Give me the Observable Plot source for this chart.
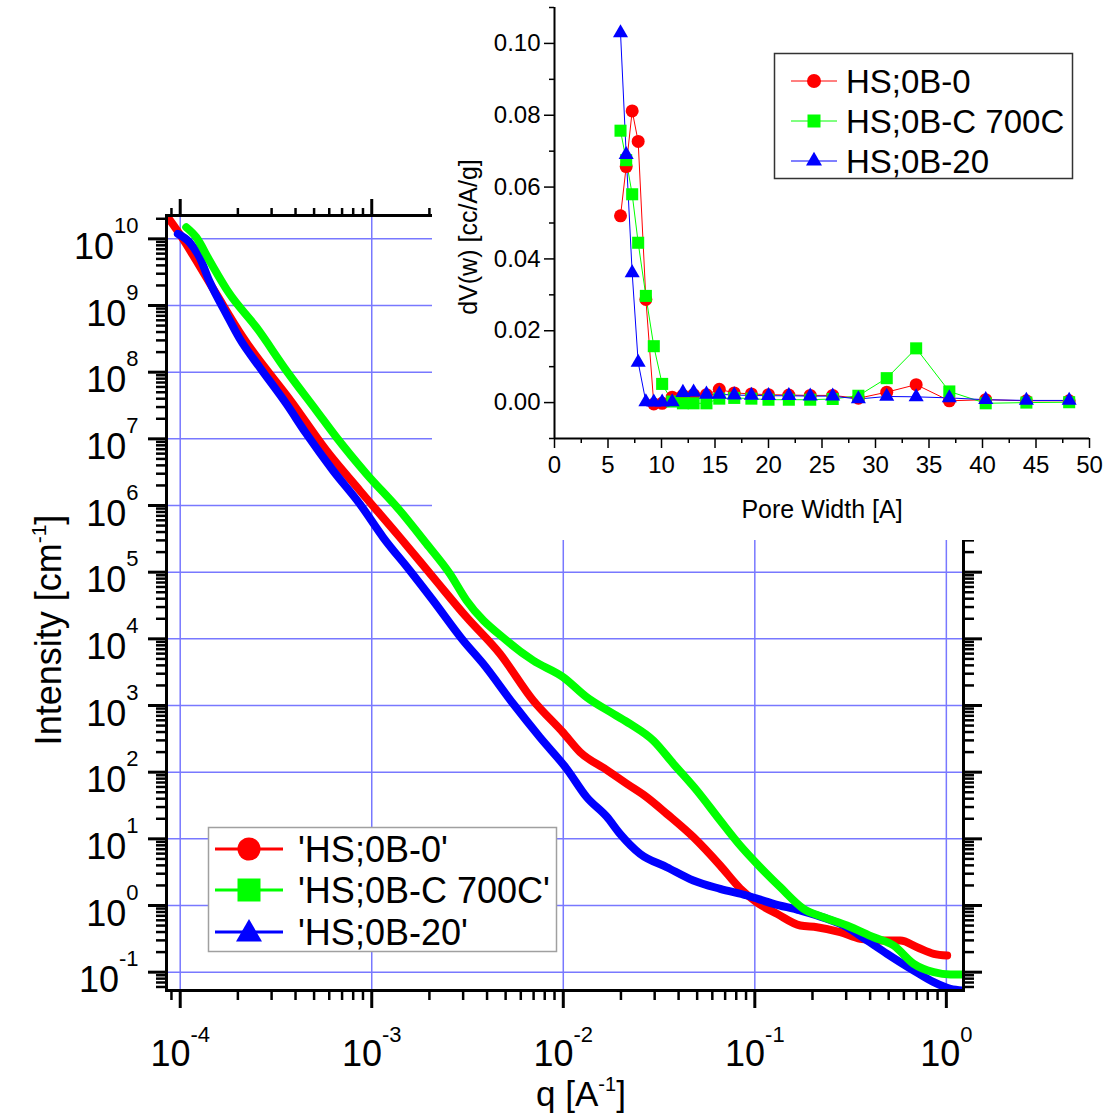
<!DOCTYPE html>
<html><head><meta charset="utf-8">
<script src="https://cdn.jsdelivr.net/npm/d3@7"></script>
<script src="https://cdn.jsdelivr.net/npm/@observablehq/plot@0.6"></script>
<style>
html,body{margin:0;padding:0;background:#fff;}
#chart{position:relative;width:1110px;height:1118px;overflow:hidden;}
#chart svg{position:absolute;top:0;max-width:none;}
</style></head><body><div id="chart"></div>
<script>
// ---------- Main SAXS curves: q [1/A] and Intensity [1/cm] ----------
const seriesNames = ["HS;0B-0", "HS;0B-C 700C", "HS;0B-20"];
const seriesColors = ["#ff0000", "#00ff00", "#0000ff"];

const redQ = [8.61e-5, 1.032e-4, 1.212e-4, 1.542e-4, 2.124e-4, 3.878e-4, 5.797e-4, 8.66e-4, 1.401e-3, 2.091e-3, 3.126e-3, 4.668e-3, 6.966e-3, 1.0e-2, 1.223e-2, 1.686e-2, 2.145e-2, 2.729e-2, 3.471e-2, 4.78e-2, 6.594e-2, 8.387e-2, 0.1026, 0.1305, 0.1727, 0.2112, 0.2795, 0.3556, 0.4522, 0.5754, 0.7035, 0.8594, 1.0097];
const redI = [2.11e10, 1.0e10, 4.73e9, 1.496e9, 3.34e8, 3.35e7, 6.68e6, 1.68e6, 3.34e5, 8.39e4, 2.11e4, 5.96e3, 1.188e3, 390, 200, 108, 66.9, 42.1, 23.7, 10.58, 3.98, 1.80, 1.109, 0.751, 0.501, 0.4726, 0.3977, 0.3165, 0.2985, 0.2985, 0.2368, 0.1886, 0.178];

const greenQ = [1.075e-4, 1.212e-4, 1.422e-4, 1.81e-4, 2.496e-4, 3.582e-4, 5.141e-4, 6.537e-4, 9.38e-4, 1.401e-3, 1.932e-3, 2.557e-3, 3.126e-3, 5.058e-3, 6.966e-3, 1.0e-2, 1.326e-2, 1.826e-2, 2.232e-2, 2.954e-2, 3.758e-2, 4.981e-2, 6.594e-2, 8.387e-2, 0.1067, 0.1358, 0.1797, 0.2286, 0.3030, 0.4173, 0.5310, 0.6755, 0.8594, 1.0505, 1.22];
const greenI = [1.493e10, 1.057e10, 4.73e9, 1.496e9, 4.72e8, 1.058e8, 2.658e7, 1.057e7, 2.987e6, 8.41e5, 2.663e5, 9.45e4, 3.756e4, 9.43e3, 4.73e3, 2.657e3, 1.331e3, 750, 531, 298.4, 133.5, 53.1, 18.83, 7.94, 3.754, 1.881, 0.892, 0.6675, 0.501, 0.3345, 0.2512, 0.1335, 0.1, 0.0923, 0.0923];

const blueQ = [9.72e-5, 1.118e-4, 1.262e-4, 1.422e-4, 1.739e-4, 2.042e-4, 2.598e-4, 3.582e-4, 4.557e-4, 6.276e-4, 8.66e-4, 1.146e-3, 1.580e-3, 2.091e-3, 3.001e-3, 3.818e-3, 5.476e-3, 7.55e-3, 1.042e-2, 1.326e-2, 1.686e-2, 1.978e-2, 2.518e-2, 3.471e-2, 4.78e-2, 6.594e-2, 9.09e-2, 0.1253, 0.1727, 0.2381, 0.3030, 0.3855, 0.4903, 0.6755, 0.8594, 1.0505, 1.22];
const blueI = [1.189e10, 8.89e9, 5.30e9, 2.3e9, 7.50e8, 3.2e8, 1.186e8, 3.35e7, 1.189e7, 3.35e6, 1.059e6, 3.34e5, 1.059e5, 3.756e4, 9.43e3, 4.22e3, 1.06e3, 334, 112.3, 42.1, 21.5, 11.89, 5.96, 3.754, 2.371, 1.78, 1.413, 1.06, 0.841, 0.6313, 0.4726, 0.2985, 0.1886, 0.1058, 0.0707, 0.0563, 0.0531];

const xDecades = [-4, -3, -2, -1, 0];
const yDecades = [-1, 0, 1, 2, 3, 4, 5, 6, 7, 8, 9, 10];

// ---------- Inset: pore size distribution ----------
const poreWidth = [6.17, 6.7, 7.26, 7.82, 8.54, 9.28, 10.06, 11.0, 12.0, 13.0, 14.2, 15.4, 16.8, 18.4, 20.0, 21.9, 23.9, 26.0, 28.4, 31.05, 33.8, 36.9, 40.3, 44.1, 48.1];
const dvRed = [0.052, 0.0657, 0.0812, 0.0727, 0.0287, -0.0004, -0.0002, 0.0015, 0.0020, 0.0022, 0.0022, 0.0037, 0.0027, 0.0024, 0.0022, 0.0021, 0.0020, 0.0020, 0.0012, 0.0029, 0.0050, 0.0005, 0.0008, 0.0005, 0.0005];
const dvGreen = [0.0757, 0.0675, 0.0580, 0.0445, 0.0297, 0.0157, 0.0052, 0.0003, -0.0002, -0.0002, -0.0002, 0.0011, 0.0013, 0.0011, 0.0008, 0.0008, 0.0008, 0.0010, 0.0019, 0.0068, 0.0151, 0.0031, -0.0002, 0.0000, 0.0001];
const dvBlue = [0.1029, 0.069, 0.0361, 0.0112, 0.0002, 0.0001, 0.0001, 0.0002, 0.0028, 0.0029, 0.0023, 0.0023, 0.0021, 0.0020, 0.0019, 0.0019, 0.0018, 0.0018, 0.0010, 0.0017, 0.0016, 0.0013, 0.0008, 0.0006, 0.0006];
const insetXTicks = [0, 5, 10, 15, 20, 25, 30, 35, 40, 45, 50];
const insetYTicks = [0, 0.02, 0.04, 0.06, 0.08, 0.10];

// ---------- build ----------
const FONT = "'Liberation Sans', Arial, sans-serif";
const mk = (Q, I, k) => Q.map((q, i) => ({q, I: I[i], s: k}));
const red = mk(redQ, redI, 0), green = mk(greenQ, greenI, 1), blue = mk(blueQ, blueI, 2);

const xMajor = xDecades.map(e => Math.pow(10, e));
const yMajor = yDecades.map(e => Math.pow(10, e));
const xDom = [8.48e-5, 1.229], yDom = [0.0531, 2.24e10];
const minors = (lo, hi) => {
  const out = [];
  for (let e = Math.floor(Math.log10(lo)); e <= Math.ceil(Math.log10(hi)); e++)
    for (let k = 2; k <= 9; k++) { const v = k * Math.pow(10, e); if (v >= lo && v <= hi) out.push(v); }
  return out;
};
const xMinor = minors(xDom[0], xDom[1]);
const yMinor = minors(yDom[0], yDom[1]);

const supW = (s, fs) => [...s].reduce((a, c) => a + (c === "-" ? 0.333 : 0.556), 0) * fs;
const baseFs = 36, expFs = 22;
const noText = () => "";
const gridStyle = {stroke: "#7878ff", strokeOpacity: 1, strokeWidth: 1.5};

const yLabelMarks = yDecades.flatMap(e => {
  const s = String(e), we = supW(s, expFs);
  return [
    Plot.text([Math.pow(10, e)], {y: d => d, frameAnchor: "left", text: () => "10", textAnchor: "end", lineAnchor: "bottom", dx: -28 - we, dy: 20, fontSize: baseFs, fill: "black"}),
    Plot.text([Math.pow(10, e)], {y: d => d, frameAnchor: "left", text: () => s, textAnchor: "start", lineAnchor: "bottom", dx: -28 - we, dy: -6, fontSize: expFs, fill: "black"})
  ];
});
const xLabelMarks = xDecades.flatMap(e => {
  const s = String(e), we = supW(s, expFs), wb = supW("10", baseFs);
  const off = (wb - we) / 2;
  return [
    Plot.text([Math.pow(10, e)], {x: d => d, frameAnchor: "bottom", text: () => "10", textAnchor: "end", lineAnchor: "bottom", dx: off, dy: 75, fontSize: baseFs, fill: "black"}),
    Plot.text([Math.pow(10, e)], {x: d => d, frameAnchor: "bottom", text: () => s, textAnchor: "start", lineAnchor: "bottom", dx: off, dy: 51, fontSize: expFs, fill: "black"})
  ];
});

const lineOpts = (c) => ({x: "q", y: "I", stroke: c, strokeWidth: 8, curve: "monotone-x", clip: true, strokeLinejoin: "round"});

const mainSvg = Plot.plot({
  width: 1110, height: 1118,
  marginLeft: 166, marginRight: 147, marginTop: 215, marginBottom: 128,
  style: {fontFamily: FONT, background: "white", color: "black"},
  x: {type: "log", domain: xDom, label: null},
  y: {type: "log", domain: yDom, label: null},
  marks: [
    Plot.gridX(xMajor, gridStyle),
    Plot.gridY(yMajor, gridStyle),
    Plot.line(red, lineOpts(seriesColors[0])),
    Plot.line(blue, lineOpts(seriesColors[2])),
    Plot.line(green, lineOpts(seriesColors[1])),
    Plot.axisX(xMajor, {anchor: "bottom", tickSize: 18, strokeWidth: 3, tickFormat: noText, label: null}),
    Plot.axisX(xMinor, {anchor: "bottom", tickSize: 10, strokeWidth: 2.5, tickFormat: noText, label: null}),
    Plot.axisX(xMajor, {anchor: "top", tickSize: 17, strokeWidth: 3, tickFormat: noText, label: null}),
    Plot.axisX(xMinor, {anchor: "top", tickSize: 8, strokeWidth: 2.5, tickFormat: noText, label: null}),
    Plot.axisY(yMajor, {anchor: "left", tickSize: 18, strokeWidth: 3, tickFormat: noText, label: null}),
    Plot.axisY(yMinor, {anchor: "left", tickSize: 10, strokeWidth: 2.5, tickFormat: noText, label: null}),
    Plot.axisY(yMajor, {anchor: "right", tickSize: 18, strokeWidth: 3, tickFormat: noText, label: null}),
    Plot.axisY(yMinor, {anchor: "right", tickSize: 10, strokeWidth: 2.5, tickFormat: noText, label: null}),
    Plot.frame({stroke: "black", strokeWidth: 3}),
    ...yLabelMarks,
    ...xLabelMarks
  ]
});
mainSvg.style.left = "0px";
document.getElementById("chart").appendChild(mainSvg);

const S = d3.select(mainSvg);
// axis titles
const yt = S.append("text").attr("transform", "translate(61,630) rotate(-90)").attr("text-anchor", "middle")
  .attr("font-family", FONT).attr("font-size", 36).attr("fill", "black");
yt.append("tspan").text("Intensity [cm");
yt.append("tspan").attr("dy", -15).attr("font-size", 21).text("-1");
yt.append("tspan").attr("dy", 15).text("]");
const xt = S.append("text").attr("transform", "translate(581,1106)").attr("text-anchor", "middle")
  .attr("font-family", FONT).attr("font-size", 35).attr("fill", "black");
xt.append("tspan").text("q [A");
xt.append("tspan").attr("dy", -15).attr("font-size", 20).text("-1");
xt.append("tspan").attr("dy", 15).text("]");

// main legend
const symSizes = [Math.PI * 11.5 * 11.5, 23 * 23, 0.433 * 26 * 26];
const symTypes = [d3.symbolCircle, d3.symbolSquare, d3.symbolTriangle];
const lg = S.append("g").attr("text-anchor", "start");
lg.append("rect").attr("x", 208.5).attr("y", 827.5).attr("width", 348).attr("height", 124)
  .attr("fill", "white").attr("stroke", "#a0a0a0").attr("stroke-width", 1.5);
[849, 890, 932].forEach((cy, i) => {
  lg.append("line").attr("x1", 215).attr("x2", 283).attr("y1", cy).attr("y2", cy)
    .attr("stroke", seriesColors[i]).attr("stroke-width", 3);
  lg.append("path").attr("d", d3.symbol(symTypes[i], symSizes[i])()).attr("transform", `translate(249,${cy + (i === 2 ? 2 : 0)})`)
    .attr("fill", seriesColors[i]);
  lg.append("text").attr("x", 298).attr("y", cy + 13).attr("text-anchor", "start").attr("font-family", FONT).attr("font-size", 36)
    .attr("fill", "black").text("'" + seriesNames[i] + "'");
});

// ---------- inset ----------
const pore = (arr, k) => poreWidth.map((w, i) => ({w, v: arr[i], s: k}));
const pR = pore(dvRed, 0), pG = pore(dvGreen, 1), pB = pore(dvBlue, 2);
const insetXMinor = insetXTicks.slice(0, -1).map(v => v + 2.5);
const insetYMinor = [-0.01, 0.01, 0.03, 0.05, 0.07, 0.09, 0.11];
const insetSvg = Plot.plot({
  width: 678, height: 540,
  marginLeft: 122, marginRight: 21, marginTop: 7, marginBottom: 102,
  style: {fontFamily: FONT, background: "white", color: "black"},
  x: {domain: [0, 50], label: null},
  y: {domain: [-0.01, 0.11], label: null},
  marks: [
    Plot.axisX(insetXTicks, {anchor: "bottom", tickSize: 10, tickPadding: 7, fontSize: 24, strokeWidth: 1.5, label: null, tickFormat: d => String(d)}),
    Plot.axisX(insetXMinor, {anchor: "bottom", tickSize: 5, strokeWidth: 1.5, tickFormat: noText, label: null}),
    Plot.axisY(insetYTicks, {anchor: "left", tickSize: 10, tickPadding: 4, fontSize: 24, strokeWidth: 1.5, label: null, tickFormat: d3.format(".2f")}),
    Plot.axisY(insetYMinor, {anchor: "left", tickSize: 5, strokeWidth: 1.5, tickFormat: noText, label: null}),
    Plot.ruleX([0], {stroke: "black", strokeWidth: 2}),
    Plot.ruleY([-0.01], {stroke: "black", strokeWidth: 2}),
    Plot.line(pR, {x: "w", y: "v", stroke: seriesColors[0], strokeWidth: 1}),
    Plot.line(pG, {x: "w", y: "v", stroke: seriesColors[1], strokeWidth: 1}),
    Plot.line(pB, {x: "w", y: "v", stroke: seriesColors[2], strokeWidth: 1}),
    Plot.dot(pR, {x: "w", y: "v", symbol: "circle", r: 6.5, fill: seriesColors[0]}),
    Plot.dot(pG, {x: "w", y: "v", symbol: "square", r: 6.8, fill: seriesColors[1]}),
    Plot.dot(pB, {x: "w", y: "v", symbol: "triangle", r: 5.6, fill: seriesColors[2]})
  ]
});
insetSvg.style.left = "432px";
document.getElementById("chart").appendChild(insetSvg);

const T = d3.select(insetSvg);
T.append("text").attr("transform", "translate(45,237) rotate(-90)").attr("text-anchor", "middle")
  .attr("font-family", FONT).attr("font-size", 25).attr("fill", "black").text("dV(w) [cc/A/g]");
T.append("text").attr("x", 390).attr("y", 518).attr("text-anchor", "middle")
  .attr("font-family", FONT).attr("font-size", 25).attr("fill", "black").text("Pore Width [A]");
const ilg = T.append("g").attr("text-anchor", "start");
ilg.append("rect").attr("x", 342.5).attr("y", 53.5).attr("width", 298).attr("height", 125)
  .attr("fill", "white").attr("stroke", "#333").attr("stroke-width", 1.5);
const iSizes = [Math.PI * 7 * 7, 13 * 13, 0.433 * 16 * 16];
[81, 121, 161].forEach((cy, i) => {
  ilg.append("line").attr("x1", 359).attr("x2", 405).attr("y1", cy).attr("y2", cy)
    .attr("stroke", seriesColors[i]).attr("stroke-width", 1);
  ilg.append("path").attr("d", d3.symbol(symTypes[i], iSizes[i])()).attr("transform", `translate(382,${cy})`)
    .attr("fill", seriesColors[i]);
  ilg.append("text").attr("x", 414).attr("y", cy + 12).attr("text-anchor", "start").attr("font-family", FONT).attr("font-size", 33)
    .attr("fill", "black").text(seriesNames[i]);
});
</script></body></html>
